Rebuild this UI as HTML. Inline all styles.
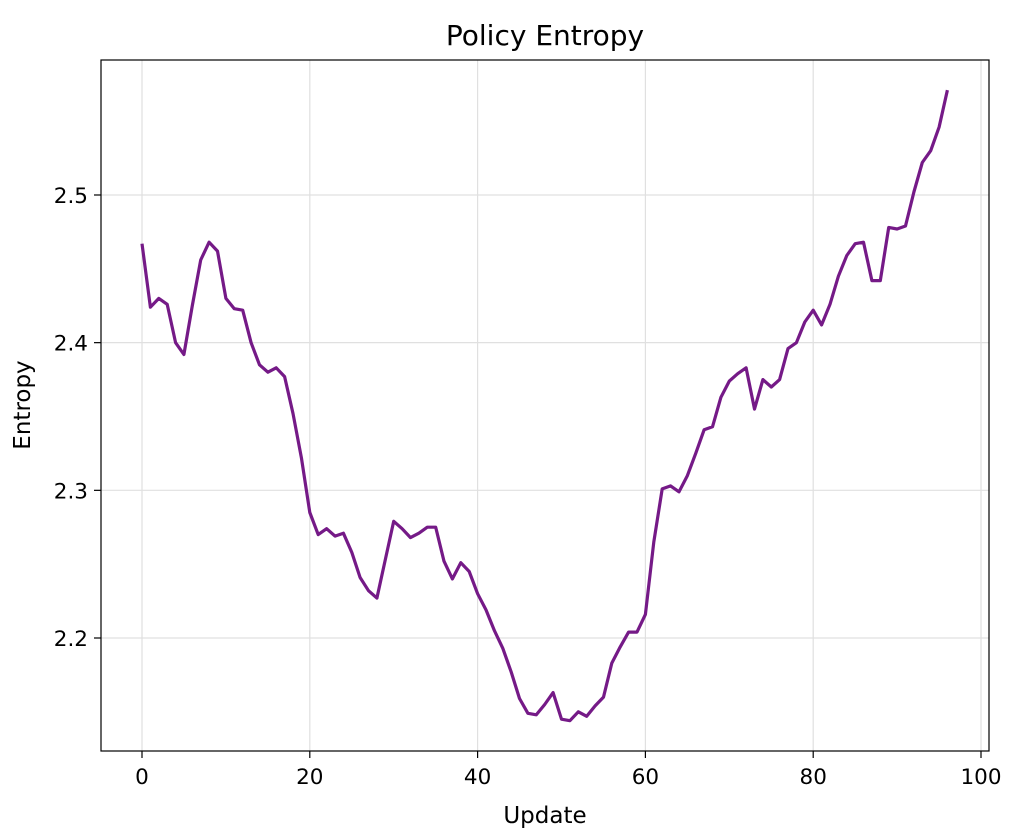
<!DOCTYPE html>
<html><head><meta charset="utf-8">
<style>
html,body{margin:0;padding:0;background:#fff;}
svg{display:block;font-family:"DejaVu Sans","Liberation Sans",sans-serif;}
</style></head>
<body>
<svg id="chart" width="1016" height="834" viewBox="0 0 1016 834" xmlns="http://www.w3.org/2000/svg">
<rect width="1016" height="834" fill="#fff"/>
<g id="grid"></g>
<g id="ticks"></g>
<path id="line" fill="none" stroke="#751a87" stroke-width="3.2" stroke-linejoin="round"/>
<rect x="101" y="60" width="888" height="691" fill="none" stroke="#000" stroke-width="1.2"/>
<text x="545" y="45" text-anchor="middle" font-size="28">Policy Entropy</text>
<text x="545" y="823" text-anchor="middle" font-size="23">Update</text>
<text transform="translate(30 405) rotate(-90)" text-anchor="middle" font-size="23">Entropy</text>
</svg>
<script>
const entropy = [2.467,2.424,2.430,2.426,2.400,2.392,2.425,2.456,2.468,2.462,
2.430,2.423,2.422,2.400,2.385,2.380,2.383,2.377,2.352,2.322,
2.285,2.270,2.274,2.269,2.271,2.258,2.241,2.232,2.227,2.253,
2.279,2.274,2.268,2.271,2.275,2.275,2.252,2.240,2.251,2.245,
2.230,2.219,2.205,2.193,2.177,2.159,2.149,2.148,2.155,2.163,
2.145,2.144,2.150,2.147,2.154,2.160,2.183,2.194,2.204,2.204,
2.216,2.265,2.301,2.303,2.299,2.310,2.325,2.341,2.343,2.363,
2.374,2.379,2.383,2.355,2.375,2.370,2.375,2.396,2.400,2.414,
2.422,2.412,2.426,2.445,2.459,2.467,2.468,2.442,2.442,2.478,
2.477,2.479,2.502,2.522,2.530,2.546,2.571];
const xTicks = [0,20,40,60,80,100];
const yTicks = [2.2,2.3,2.4,2.5];

const NS = "http://www.w3.org/2000/svg";
function xs(v){return 142 + v*8.39;}
function ys(v){return 638 - (v-2.2)*1476.7;}
const grid = document.getElementById('grid');
const ticks = document.getElementById('ticks');
function mk(tag, attrs, parent){const e=document.createElementNS(NS,tag);for(const k in attrs)e.setAttribute(k,attrs[k]);parent.appendChild(e);return e;}
xTicks.forEach(t=>{
  const x=xs(t);
  const g=mk('line',{x1:x,x2:x,y1:60,y2:751,stroke:'#e0e0e0','stroke-width':1.2},grid);
  
  
  const tk=mk('line',{x1:x,x2:x,y1:751,y2:758,stroke:'#000','stroke-width':1.2},ticks);
  
  
  const lb=mk('text',{x:x,y:784,'text-anchor':'middle','font-size':21.5},ticks);
  lb.textContent=t;
  
  
});
yTicks.forEach(t=>{
  const y=ys(t);
  const g=mk('line',{x1:101,x2:989,y1:y,y2:y,stroke:'#e0e0e0','stroke-width':1.2},grid);
  
  
  const tk=mk('line',{x1:94,x2:101,y1:y,y2:y,stroke:'#000','stroke-width':1.2},ticks);
  
  
  const lb=mk('text',{x:88,y:y+8,'text-anchor':'end','font-size':21.5},ticks);
  lb.textContent=t.toFixed(1);
  
  
});
document.getElementById('line').setAttribute('d', entropy.map((v,i)=>(i?'L':'M')+xs(i).toFixed(1)+' '+ys(v).toFixed(1)).join(' '));
</script>
</body></html>
